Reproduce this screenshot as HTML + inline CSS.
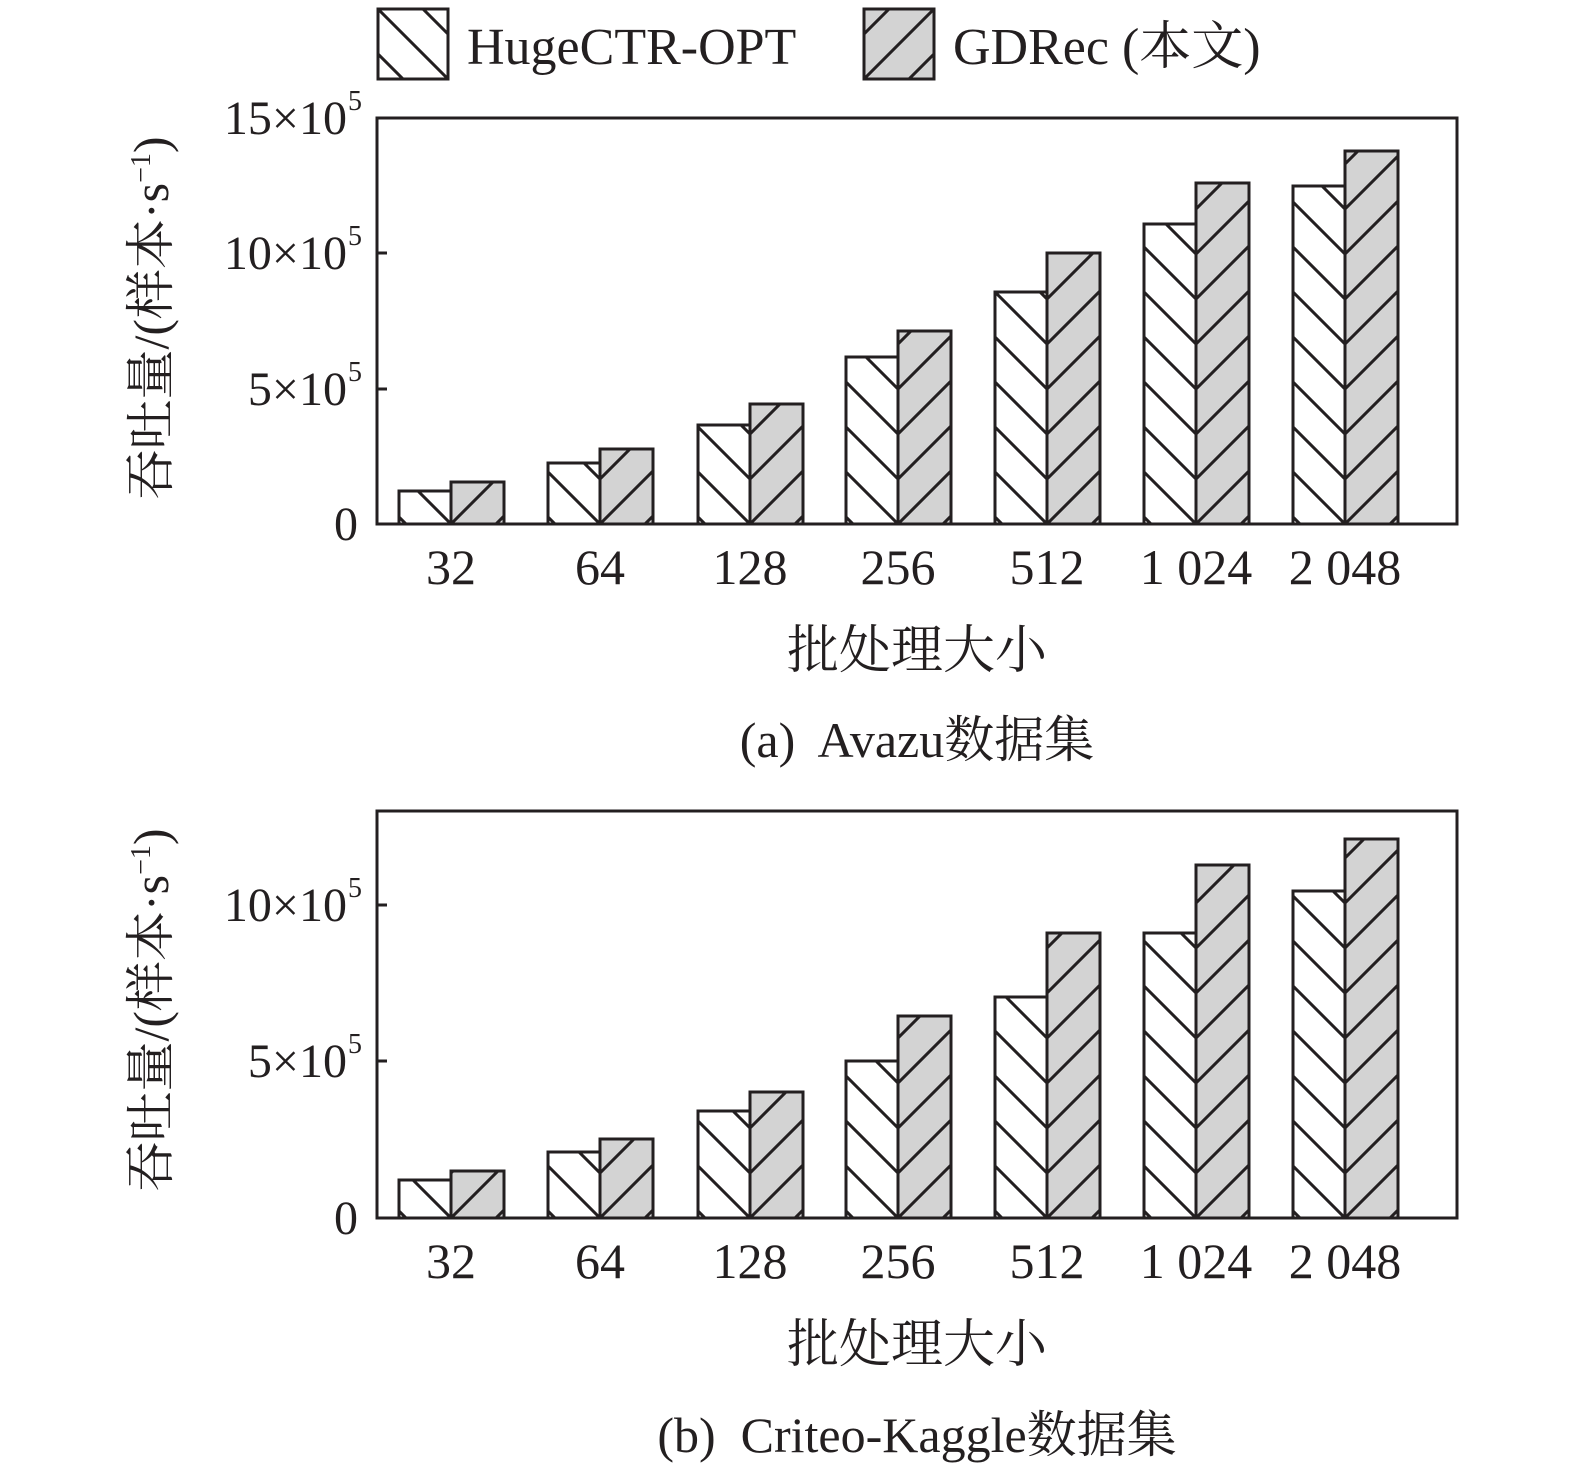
<!DOCTYPE html>
<html><head><meta charset="utf-8"><style>
html,body{margin:0;padding:0;background:#fff;overflow:hidden;width:1575px;height:1473px}
svg{display:block}
svg text{font-family:"Liberation Serif","Noto Serif CJK SC",serif;fill:#231f20}
</style></head><body>
<svg id="s" width="1575" height="1473" xmlns="http://www.w3.org/2000/svg"></svg>
<script>
const S=document.getElementById('s');let h='';
const C='#231f20';
function hatchRect(x,y,w,hgt,dir,fill){
  let id='c'+Math.round(x)+'_'+Math.round(y);
  h+=`<clipPath id="${id}"><rect x="${x}" y="${y}" width="${w}" height="${hgt}"/></clipPath>`;
  h+=`<rect x="${x}" y="${y}" width="${w}" height="${hgt}" fill="${fill}"/>`;
  h+=`<g clip-path="url(#${id})" stroke="${C}" stroke-width="3">`;
  for(let k=-30;k<40;k++){
    let yy=y+hgt-k*45;
    if(dir<0){ let ax=x+w; h+=`<line x1="${ax-200}" y1="${yy-200}" x2="${ax+200}" y2="${yy+200}"/>`; }
    else { let ax=x; h+=`<line x1="${ax-200}" y1="${yy+200}" x2="${ax+200}" y2="${yy-200}"/>`; }
  }
  h+=`</g><rect x="${x}" y="${y}" width="${w}" height="${hgt}" fill="none" stroke="${C}" stroke-width="3"/>`;
}
const cx=[451,600,750,898,1047,1196,1345];
const labs=['32','64','128','256','512','1 024','2 048'];
function chart(top,bot,ticks,H,G,xlY,titY,capY,cap,ytY){
  for(let i=0;i<7;i++){
    hatchRect(cx[i]-52,H[i],52,bot-H[i],-1,'#fff');
    hatchRect(cx[i],G[i],53,bot-G[i],1,'#d3d3d3');
  }
  h+=`<rect x="377" y="${top}" width="1080" height="${bot-top}" fill="none" stroke="${C}" stroke-width="3"/>`;
  ticks.forEach(t=>{
    h+=`<line x1="377" y1="${t[0]}" x2="387" y2="${t[0]}" stroke="${C}" stroke-width="3"/>`;
    h+=`<text x="${t[2]?347:358}" y="${t[0]+16}" font-size="48" text-anchor="end">${t[1]}</text>`;
    if(t[2]) h+=`<text x="348" y="${t[0]-8}" font-size="28">5</text>`;
  });
  cx.forEach((c,i)=>{h+=`<text x="${c}" y="${xlY}" font-size="50" text-anchor="middle">${labs[i]}</text>`;});
  h+=`<text x="917" y="${titY}" font-size="52" text-anchor="middle">批处理大小</text>`;
  h+=`<text x="917" y="${capY}" font-size="50" text-anchor="middle" xml:space="preserve">${cap}</text>`;
  h+=`<text transform="translate(168,${ytY}) rotate(-90)" font-size="50" text-anchor="middle">吞吐量/(样本·s<tspan font-size="28" dy="-18">−1</tspan><tspan dy="18">)</tspan></text>`;
}
chart(118,524,[[524,'0'],[389,'5×10',1],[253,'10×10',1],[118,'15×10',1]],
 [491,463,425,357,292,224,186],[482,449,404,331,253,183,151],584,668,757,'(a)  Avazu数据集',318);
chart(811,1218,[[1218,'0'],[1061,'5×10',1],[905,'10×10',1]],
 [1180,1152,1111,1061,997,933,891],[1171,1139,1092,1016,933,865,839],1278,1362,1452,'(b)  Criteo-Kaggle数据集',1010);
hatchRect(378,9,70,70,-1,'#fff');
h+=`<text x="467" y="64" font-size="52">HugeCTR-OPT</text>`;
hatchRect(864,9,70,70,1,'#d3d3d3');
h+=`<text x="953" y="64" font-size="52">GDRec (本文)</text>`;
S.innerHTML=h;
</script>
</body></html>
